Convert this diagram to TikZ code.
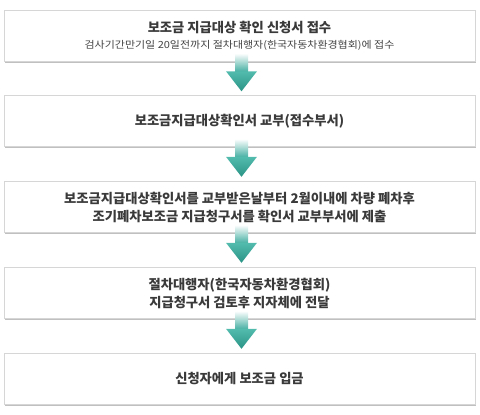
\documentclass[tikz,border=0pt]{standalone}
\usepackage{fontspec}
\setmainfont{Noto Sans CJK KR}
\usetikzlibrary{calc,shadows}
\definecolor{txtdark}{HTML}{3A3A3A}
\definecolor{txtsub}{HTML}{444444}
\definecolor{boxline}{HTML}{D6D6D6}
\definecolor{shaftbot}{HTML}{45AFA2}
\definecolor{headtop}{HTML}{52BBAE}
\definecolor{headbot}{HTML}{2B9486}
\tikzset{
  stepbox/.style={draw=boxline, line width=0.6pt, fill=white,
    minimum width=471pt, minimum height=51pt, inner sep=0pt, align=center,
    text=txtdark,
    drop shadow={shadow xshift=0.8pt, shadow yshift=-1.6pt, fill=black!45, opacity=0.55},
    font=\bfseries\fontsize{13.3}{18}\selectfont}
}
\newcommand{\downarrowfrom}[1]{%
  \coordinate (ar) at ([xshift=2pt]#1.south);
  \shade[top color=white, bottom color=shaftbot] ($(ar)+(-6.5,8)$) rectangle ($(ar)+(6.5,-10.5)$);
  \shade[top color=headtop, bottom color=headbot] ($(ar)+(-15.5,-10)$) -- ($(ar)+(15.5,-10)$) -- ($(ar)+(0,-30)$) -- cycle;
}
\begin{document}
\begin{tikzpicture}[x=1pt,y=1pt]
\useasboundingbox (0,0) rectangle (480,415);
\node[stepbox] (b1) at (239.5,379.5) {보조금 지급대상 확인 신청서 접수\\[-2pt]{\color{txtsub}\mdseries\fontsize{9.8}{12}\selectfont\scalebox{1.12}[1]{검사기간만기일 20일전까지 절차대행자(한국자동차환경협회)에 접수}}};
\node[stepbox] (b2) at (239.5,294) {보조금지급대상확인서 교부(접수부서)};
\node[stepbox] (b3) at (239.5,208) {보조금지급대상확인서를 교부받은날부터 2월이내에 차량 폐차후\\조기폐차보조금 지급청구서를 확인서 교부부서에 제출};
\node[stepbox] (b4) at (239.5,122) {절차대행자(한국자동차환경협회)\\지급청구서 검토후 지자체에 전달};
\node[stepbox] (b5) at (239.5,36.5) {신청자에게 보조금 입금};
\downarrowfrom{b1}
\downarrowfrom{b2}
\downarrowfrom{b3}
\downarrowfrom{b4}
\end{tikzpicture}
\end{document}
